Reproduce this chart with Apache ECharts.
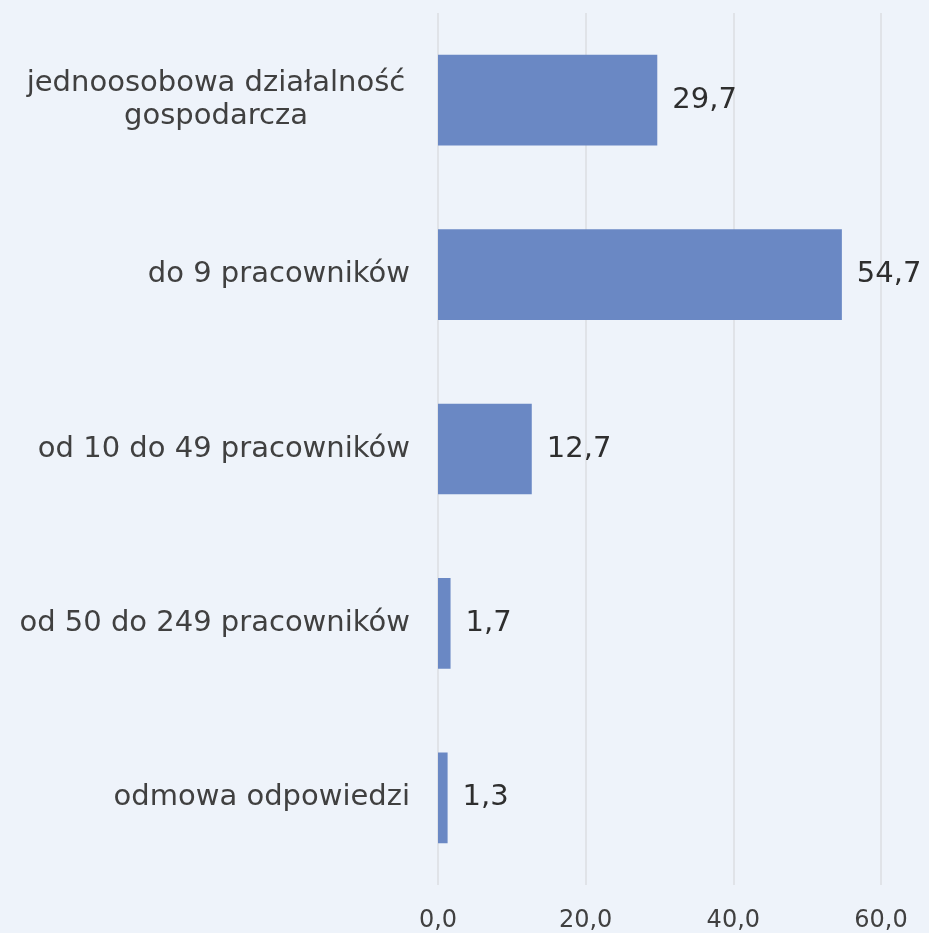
<!DOCTYPE html>
<html><head><meta charset="utf-8">
<script src="https://cdn.jsdelivr.net/npm/echarts@6/dist/echarts.min.js"></script>
<style>html,body{margin:0;padding:0;background:#EEF3FA;}#c{width:929px;height:933px;}</style>
</head><body><div id="c"></div>
<script>
const categories = ['jednoosobowa działalność gospodarcza', 'do 9 pracowników', 'od 10 do 49 pracowników', 'od 50 do 249 pracowników', 'odmowa odpowiedzi'];
const values = [29.7, 54.7, 12.7, 1.7, 1.3];
const xTicks = [0, 20, 40, 60];
const FONT = '"DejaVu Sans", sans-serif';
const chart = echarts.init(document.getElementById('c'));
chart.setOption({
  backgroundColor: '#EEF3FA',
  animation: false,
  grid: {left: 438, right: 48, top: 13, bottom: 48, containLabel: false},
  xAxis: {
    type: 'value', min: xTicks[0], max: xTicks[xTicks.length-1], interval: 20,
    axisLine: {show: false}, axisTick: {show: false},
    splitLine: {show: true, lineStyle: {color: '#E0E3E8', width: 2}},
    axisLabel: {fontFamily: FONT, fontSize: 24, color: '#404040', margin: 24,
      formatter: v => v.toFixed(1).replace('.', ',')}
  },
  yAxis: {
    type: 'category', inverse: true, data: categories,
    axisLine: {show: false}, axisTick: {show: false},
    axisLabel: {fontFamily: FONT, fontSize: 29, color: '#404040', margin: 28, lineHeight: 33,
      formatter: v => v === categories[0] ? '{c|jednoosobowa działalność}\n{c|gospodarcza}' : v,
      rich: {c: {width: 388, align: 'center', fontFamily: FONT, fontSize: 29, color: '#404040', lineHeight: 33}}}
  },
  series: [{
    type: 'bar', data: values, barWidth: '52%',
    itemStyle: {color: '#6A88C4'},
    label: {show: true, position: 'right', distance: 15, fontFamily: FONT, fontSize: 29, color: '#2E2E2E',
      formatter: p => p.value.toFixed(1).replace('.', ',')}
  }]
});
</script></body></html>
